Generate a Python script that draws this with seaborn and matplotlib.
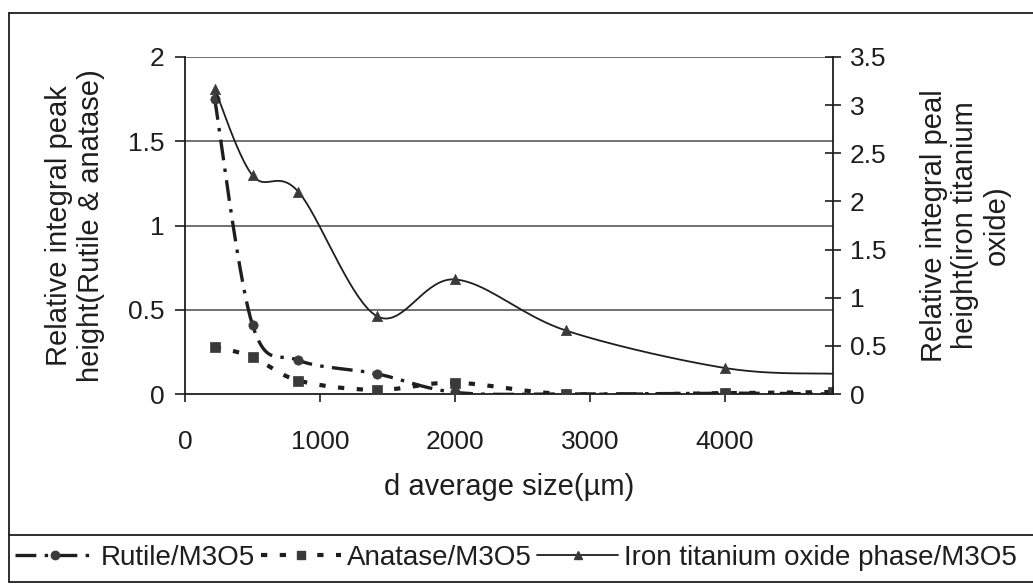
import numpy as np
import pandas as pd
import matplotlib
matplotlib.use("Agg")
import matplotlib.pyplot as plt
import seaborn as sns
from matplotlib.lines import Line2D
from matplotlib.patches import Rectangle

# ---------------- data ----------------
sizes = [220, 500, 840, 1420, 2000, 2820, 4000, 4800]
rutile = [1.75, 0.41, 0.20, 0.12, 0.01, 0.0, 0.005, 0.0]
anatase = [0.28, 0.22, 0.08, 0.024, 0.067, 0.0, 0.005, 0.012]
iron = [3.17, 2.27, 2.10, 0.81, 1.19, 0.66, 0.27, 0.21]

series_labels = ["Rutile/M3O5", "Anatase/M3O5", "Iron titanium oxide phase/M3O5"]
x_ticks = [0, 1000, 2000, 3000, 4000]
left_ticks = [0, 0.5, 1, 1.5, 2]
right_ticks = [0, 0.5, 1, 1.5, 2, 2.5, 3, 3.5]
x_label = "d average size(µm)"
left_label = "Relative integral peak\nheight(Rutile & anatase)"
right_label = "Relative integral peal\nheight(iron titanium\noxide)"

XMAX = 4800
LMAX = 2.0
RMAX = 3.5

# ---------------- style ----------------
sns.set_theme(style="white")
plt.rcParams["font.family"] = ["Liberation Sans", "DejaVu Sans"]
plt.rcParams["lines.scale_dashes"] = False
INK = "#1e1e1e"
MK = "#3a3a3a"

W, H = 1033, 586
fig = plt.figure(figsize=(W / 100, H / 100), dpi=100)
fig.patch.set_facecolor("white")

L, R, T, B = 185, 833, 57, 394
ax = fig.add_axes([L / W, 1 - B / H, (R - L) / W, (B - T) / H])
ax2 = ax.twinx()
ax.set_facecolor("none")
ax2.set_facecolor("none")


def smooth(xv, yv, ymax, n=40):
    """Excel-like smoothed line (Catmull-Rom Bezier in display proportions)."""
    px = np.asarray(xv, float) / XMAX * (R - L)
    py = np.asarray(yv, float) / ymax * (B - T)
    P = np.column_stack([px, py])
    P = np.vstack([P[0], P, P[-1]])
    out = []
    t = np.linspace(0, 1, n)[:, None]
    for i in range(1, len(P) - 2):
        p0, p1, p2, p3 = P[i - 1], P[i], P[i + 1], P[i + 2]
        c1 = p1 + (p2 - p0) / 6
        c2 = p2 - (p3 - p1) / 6
        seg = ((1 - t) ** 3) * p1 + 3 * ((1 - t) ** 2) * t * c1 + 3 * (1 - t) * t ** 2 * c2 + t ** 3 * p2
        out.append(seg if i == 1 else seg[1:])
    S = np.vstack(out)
    return S[:, 0] / (R - L) * XMAX, S[:, 1] / (B - T) * ymax


rut_ls = (0, (15, 6, 2.5, 6))
ana_ls = (0, (4.5, 9))

# gridlines (left axis)
ax.set_xlim(0, XMAX)
ax.set_ylim(0, LMAX)
ax2.set_ylim(0, RMAX)
for v in left_ticks[1:]:
    ax.axhline(v, color="#4a4a4a", lw=1.1, zorder=0)

# smoothed lines
xs, ys = smooth(sizes, iron, RMAX)
sns.lineplot(x=xs, y=ys, ax=ax2, sort=False, estimator=None, color=INK, lw=1.3)
xs, ys = smooth(sizes, rutile, LMAX)
sns.lineplot(x=xs, y=ys, ax=ax, sort=False, estimator=None, color=INK, lw=2.4,
             linestyle=rut_ls)
xs, ys = smooth(sizes, anatase, LMAX)
sns.lineplot(x=xs, y=ys, ax=ax, sort=False, estimator=None, color=INK, lw=3.0,
             linestyle=ana_ls)

# markers
sns.scatterplot(x=sizes[:-1], y=iron[:-1], ax=ax2, marker="^", s=55, color=MK,
                edgecolor=MK, linewidth=0.5, zorder=5)
sns.scatterplot(x=sizes, y=rutile, ax=ax, marker="o", s=45, color=MK,
                edgecolor=MK, linewidth=0.5, zorder=5)
sns.scatterplot(x=sizes, y=anatase, ax=ax, marker="s", s=45, color=MK,
                edgecolor=MK, linewidth=0.5, zorder=5)

ax.set_xlim(0, XMAX)
ax.set_ylim(0, LMAX)
ax2.set_ylim(0, RMAX)

# axes cosmetics
for a in (ax, ax2):
    for s in a.spines.values():
        s.set_visible(False)
ax.spines["left"].set_visible(True)
ax.spines["bottom"].set_visible(True)
ax2.spines["right"].set_visible(True)
for s in (ax.spines["left"], ax.spines["bottom"], ax2.spines["right"]):
    s.set_color(INK)
    s.set_linewidth(1.3)

fmt = lambda v: ("%g" % v)
ax.set_xticks(x_ticks)
ax.set_xticklabels([fmt(v) for v in x_ticks])
ax.set_yticks(left_ticks)
ax.set_yticklabels([fmt(v) for v in left_ticks])
ax2.set_yticks(right_ticks)
ax2.set_yticklabels([fmt(v) for v in right_ticks])

ax.tick_params(axis="x", direction="out", length=6, width=1.2, color=INK,
               labelsize=19, labelcolor=INK, pad=20, bottom=True)
ax.tick_params(axis="y", direction="out", length=7, width=1.2, color=INK,
               labelsize=19, labelcolor=INK, pad=8, left=True)
ax2.tick_params(axis="y", direction="inout", length=12, width=1.2, color=INK,
                labelsize=19, labelcolor=INK, pad=6, right=True)

ax.set_xlabel(x_label, fontsize=21, color=INK)
ax.xaxis.label.set_va("center")
ax.xaxis.set_label_coords(0.5, (B - 487) / (B - T))

ax.set_ylabel(left_label, fontsize=21, color=INK, linespacing=1.15)
ax.yaxis.label.set_va("center")
ax.yaxis.label.set_ha("center")
ax.yaxis.set_label_coords((75 - L) / (R - L), 0.5)

ax2.set_ylabel(right_label, fontsize=21, color=INK, linespacing=1.15)
ax2.yaxis.label.set_va("center")
ax2.yaxis.label.set_ha("center")
ax2.yaxis.set_label_coords((965 - L) / (R - L), 0.5)

# outer chart frame and legend box
fig.add_artist(Line2D([9 / W, 9 / W], [1 - 13 / H, 1 - 582 / H], color=INK, lw=1.3,
                      transform=fig.transFigure))
fig.add_artist(Line2D([9 / W, 1], [1 - 13 / H, 1 - 13 / H], color=INK, lw=1.3,
                      transform=fig.transFigure))
fig.add_artist(Line2D([9 / W, 1], [1 - 535 / H, 1 - 535 / H], color=INK, lw=1.3,
                      transform=fig.transFigure))
fig.add_artist(Line2D([9 / W, 1], [1 - 582 / H, 1 - 582 / H], color=INK, lw=1.3,
                      transform=fig.transFigure))

handles = [
    Line2D([], [], color=INK, lw=2.4, linestyle=rut_ls, marker="o", ms=6,
           mfc=MK, mec=MK),
    Line2D([], [], color=INK, lw=3.0, linestyle=ana_ls, marker="s", ms=6,
           mfc=MK, mec=MK),
    Line2D([], [], color=INK, lw=1.3, marker="^", ms=6, mfc=MK, mec=MK),
]
leg = fig.legend(handles, series_labels, loc="center left",
                 bbox_to_anchor=(15 / W, 1 - 558 / H), ncol=3, frameon=False,
                 fontsize=20, handlelength=2.9, handletextpad=0.2,
                 columnspacing=0.2, borderpad=0, borderaxespad=0, numpoints=1)
for t in leg.get_texts():
    t.set_color(INK)

fig.savefig("out.png", dpi=100, facecolor="white")
